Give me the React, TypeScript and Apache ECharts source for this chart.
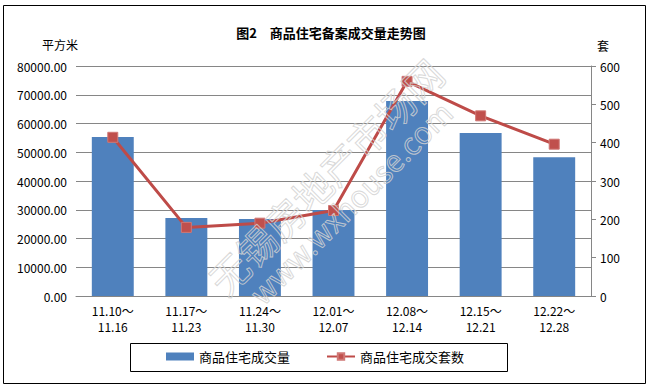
import React, { useEffect, useRef } from "react";
import * as echarts from "echarts";

const periodStart = ["11.10～", "11.17～", "11.24～", "12.01～", "12.08～", "12.15～", "12.22～"];
const periodEnd = ["11.16", "11.23", "11.30", "12.07", "12.14", "12.21", "12.28"];
const areaValues = [55300, 27100, 26800, 29900, 67800, 56700, 48300];
const unitValues = [414, 179, 190, 223, 560, 470, 396];
const barName = "商品住宅成交量";
const lineName = "商品住宅成交套数";
const titleText = "图2　商品住宅备案成交量走势图";
const leftUnit = "平方米";
const rightUnit = "套";

const FONT = "'Noto Sans CJK SC', 'Noto Sans', sans-serif";

export default function App() {
  const ref = useRef<HTMLDivElement>(null);
  useEffect(() => {
    if (!ref.current) return;
    const chart = echarts.init(ref.current, null, { renderer: "svg" });
    const categories = periodStart.map((s, i) => s + "\n" + periodEnd[i]);
    chart.setOption({
      animation: false,
      textStyle: { fontFamily: FONT, color: "#000" },
      grid: { left: 76, right: 61, top: 66, bottom: 92, containLabel: false },
      legend: {
        left: 166,
        top: 350,
        padding: 0,
        itemGap: 36,
        itemWidth: 28,
        itemHeight: 8,
        selectedMode: false,
        textStyle: { fontSize: 13, fontFamily: FONT, color: "#000" },
        data: [
          { name: barName, icon: "rect" },
          { name: lineName },
        ],
      },
      xAxis: {
        type: "category",
        data: categories,
        axisLine: { show: true, lineStyle: { color: "#868686", width: 1 } },
        axisTick: { show: false },
        axisLabel: { fontSize: 12, color: "#000", lineHeight: 16, margin: 6, fontFamily: FONT },
      },
      yAxis: [
        {
          type: "value",
          min: 0,
          max: 80000,
          interval: 10000,
          axisLine: { show: false },
          axisTick: { show: false },
          splitLine: { show: true, lineStyle: { color: "#868686", width: 1 } },
          axisLabel: {
            fontSize: 12,
            color: "#000",
            margin: 9,
            fontFamily: FONT,
            formatter: (v: number) => v.toFixed(2),
          },
        },
        {
          type: "value",
          min: 0,
          max: 600,
          interval: 100,
          position: "right",
          axisLine: { show: true, lineStyle: { color: "#868686", width: 1 } },
          axisTick: { show: true, inside: false, length: 5, lineStyle: { color: "#868686" } },
          splitLine: { show: false },
          axisLabel: { fontSize: 12, color: "#000", margin: 9, fontFamily: FONT },
        },
      ],
      series: [
        {
          name: barName,
          type: "bar",
          yAxisIndex: 0,
          data: areaValues,
          barCategoryGap: "43%",
          itemStyle: { color: "#4F81BD" },
        },
        {
          name: lineName,
          type: "line",
          yAxisIndex: 1,
          data: unitValues,
          symbol: "rect",
          symbolSize: 10,
          lineStyle: { color: "#BE4B48", width: 3 },
          itemStyle: { color: "#C0504D", borderColor: "#D07875", borderWidth: 1 },
        },
      ],
      graphic: [
        {
          type: "rect",
          shape: { x: 3.5, y: 5.5, width: 642, height: 378 },
          style: { fill: "none", stroke: "#000", lineWidth: 1 },
          silent: true,
          z: 0,
        },
        {
          type: "rect",
          shape: { x: 130.5, y: 343.5, width: 377, height: 28 },
          style: { fill: "none", stroke: "#000", lineWidth: 1 },
          silent: true,
        },
        {
          type: "text",
          x: 331,
          y: 32,
          style: {
            text: titleText,
            fontSize: 13,
            fontWeight: "bold",
            fontFamily: FONT,
            fill: "#000",
            textAlign: "center",
            textVerticalAlign: "middle",
          },
        },
        {
          type: "text",
          x: 60,
          y: 44,
          style: {
            text: leftUnit,
            fontSize: 12,
            fontFamily: FONT,
            fill: "#000",
            textAlign: "center",
            textVerticalAlign: "middle",
          },
        },
        {
          type: "text",
          x: 603,
          y: 45,
          style: {
            text: rightUnit,
            fontSize: 12,
            fontFamily: FONT,
            fill: "#000",
            textAlign: "center",
            textVerticalAlign: "middle",
          },
        },
        {
          type: "text",
          x: 325,
          y: 176,
          rotation: Math.PI / 4,
          z: 100,
          silent: true,
          style: {
            text: "无锡房地产市场网",
            fontSize: 39,
            fontFamily: FONT,
            fill: "rgba(255,255,255,0)",
            stroke: "rgba(210,210,210,0.85)",
            lineWidth: 1,
            textAlign: "center",
            textVerticalAlign: "middle",
          },
        },
        {
          type: "text",
          x: 350,
          y: 202,
          rotation: Math.PI / 4,
          z: 100,
          silent: true,
          style: {
            text: "www.wxhouse.com",
            fontSize: 30,
            fontFamily: FONT,
            fill: "rgba(255,255,255,0)",
            stroke: "rgba(210,210,210,0.85)",
            lineWidth: 1,
            textAlign: "center",
            textVerticalAlign: "middle",
          },
        },
      ],
    });
    return () => chart.dispose();
  }, []);
  return (
    <div
      ref={ref}
      style={{ position: "absolute", left: 0, top: 0, width: 652, height: 388, background: "#fff" }}
    />
  );
}
